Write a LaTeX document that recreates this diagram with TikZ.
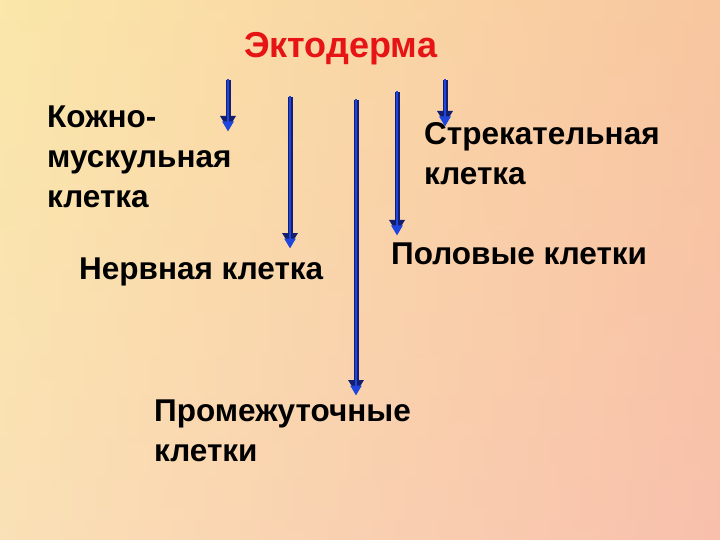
\documentclass[tikz,border=0pt]{standalone}
\usepackage{fontspec}
\setmainfont{Liberation Sans}
\usetikzlibrary{arrows.meta}
\definecolor{arr}{RGB}{30,70,220}
\definecolor{arredge}{RGB}{20,30,110}
\begin{document}
\begin{tikzpicture}[x=1pt,y=-1pt,
  lbl/.style={font=\fontsize{31.5}{40}\selectfont\bfseries, align=left, inner sep=0pt, anchor=north west},
  arrw/.style={line width=5pt, draw=arredge, -{Triangle[length=13pt,width=15pt]}},
  arrin/.style={line width=2.6pt, draw=arr, -{Triangle[length=10pt,width=11pt]}}]
\useasboundingbox (0,0) rectangle (720,540);
\shade[top color={rgb,255:red,252;green,238;blue,190}, bottom color={rgb,255:red,252;green,225;blue,215}] (0,0) rectangle (720,540);
\shade[left color={rgb,255:red,250;green,225;blue,150}, right color={rgb,255:red,246;green,160;blue,130}, opacity=0.5] (0,0) rectangle (720,540);
\node[lbl, font=\fontsize{36}{40}\selectfont\bfseries, text={rgb,255:red,230;green,20;blue,20}] (ekt) at (244,32) {Эктодерма};
\node[lbl] (kozh) at (47,106) {Кожно-\\мускульная\\клетка};
\node[lbl] (strek) at (424,122) {Стрекательная\\клетка};
\node[lbl] (nerv) at (79,258) {Нервная клетка};
\node[lbl] (pol) at (391,243) {Половые клетки};
\node[lbl] (prom) at (154,400) {Промежуточные\\клетки};
\foreach \n/\x/\a/\b in {a/228/80/129, b/290/97/246, c/356/100/393, d/397/92/233, e/445/80/124}{
  \coordinate (s\n) at (\x,\a); \coordinate (t\n) at (\x,\b);
  \draw[arrw] (s\n) -- (t\n);
  \draw[arrin] ([yshift=1pt]s\n) -- ([yshift=-2.5pt]t\n);
}
\end{tikzpicture}
\end{document}
